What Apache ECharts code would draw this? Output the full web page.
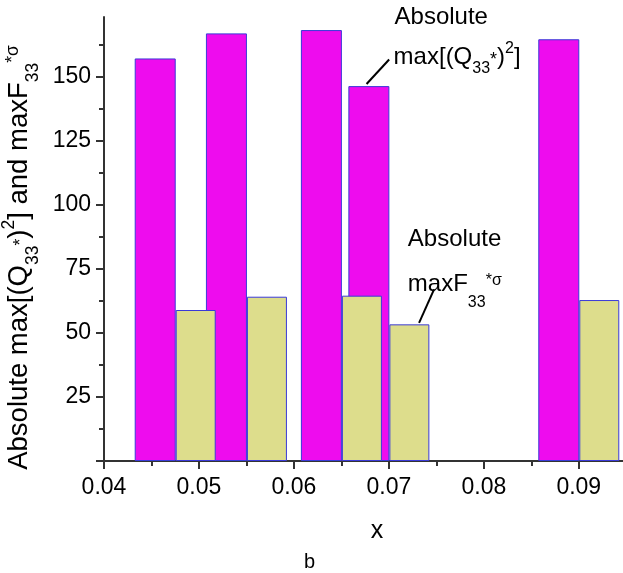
<!DOCTYPE html>
<html>
<head>
<meta charset="utf-8">
<script src="https://cdn.jsdelivr.net/npm/echarts@6/dist/echarts.min.js"></script>
<style>
  html, body { margin: 0; padding: 0; background: #fff; }
  #chart { width: 623px; height: 573px; }
</style>
</head>
<body>
<div id="chart"></div>
<script>
// ---- data ----
const pairX = [0.0475, 0.055, 0.065, 0.07, 0.09];
const qValues = [157.3, 167.1, 168.4, 146.5, 164.8];   // Absolute max[(Q33*)^2]
const fValues = [59.0, 64.2, 64.6, 53.4, 62.9];        // Absolute maxF33*σ
const xTickValues = [0.04, 0.05, 0.06, 0.07, 0.08, 0.09];
const yTickValues = [0, 25, 50, 75, 100, 125, 150];
const yLabelValues = [25, 50, 75, 100, 125, 150];
const leaderQ = [[0.06765, 147.3], [0.07003, 156.9]];
const leaderF = [[0.07318, 54.0], [0.07476, 67.1]];
const annoQWord = [0.0706, 168.7];
const annoQFormula = [0.0705, 157.6];
const annoFWord = [0.0720, 81.9];
const annoFFormula = [0.0720, 69.0];

const FONT = "'Liberation Sans', Arial, sans-serif";
const chart = echarts.init(document.getElementById('chart'), null, { renderer: 'canvas' });

const borderCol = '#3a3ad8';

chart.setOption({
  animation: false,
  backgroundColor: '#ffffff',
  textStyle: { fontFamily: FONT },
  title: {
    text: 'b', left: 304, top: 552, padding: 0,
    textStyle: { fontSize: 20, fontWeight: 'normal', color: '#000', fontFamily: FONT, lineHeight: 20 }
  },
  grid: { left: 104, right: -27, top: 17, bottom: 112, containLabel: false, outerBoundsMode: 'none' },
  xAxis: {
    type: 'value', min: 0.04, max: 0.0975, interval: 0.01,
    name: 'x', nameLocation: 'middle', nameGap: 58,
    nameTextStyle: { fontSize: 25, color: '#000', fontFamily: FONT, lineHeight: 25 },
    axisLine: { show: true, onZero: false, lineStyle: { color: '#333', width: 2 } },
    axisTick: { show: true, inside: false, length: 8, lineStyle: { color: '#333', width: 2 }, customValues: xTickValues },
    minorTick: { show: true, splitNumber: 2, length: 5, lineStyle: { color: '#333', width: 2 } },
    axisLabel: { fontSize: 23, color: '#000', margin: 15, fontFamily: FONT, customValues: xTickValues,
      formatter: v => v.toFixed(2) },
    splitLine: { show: false }, minorSplitLine: { show: false }
  },
  yAxis: {
    type: 'value', min: 0, max: 173.5, interval: 25,
    name: 'Absolute max[(Q{sb|33}{ast|*}){sp|2}] and maxF{sb|33}{sp2|*σ}',
    nameLocation: 'middle', nameGap: 51,
    nameTextStyle: {
      fontSize: 27.5, color: '#000', fontFamily: FONT, lineHeight: 30, padding: [0, 37, 0, 0],
      rich: {
        sb: { fontSize: 17.5, lineHeight: 18, padding: [26, 0, 0, 0], verticalAlign: 'middle', fontFamily: FONT, color: '#000' },
        ast: { fontSize: 17.5, lineHeight: 18, padding: [3, 0, 0, 0], verticalAlign: 'middle', fontFamily: FONT, color: '#000' },
        sp: { fontSize: 17.5, lineHeight: 18, padding: [0, 0, 22, 0], verticalAlign: 'middle', fontFamily: FONT, color: '#000' },
        sp2: { fontSize: 17.5, lineHeight: 18, padding: [0, 0, 13, 0], verticalAlign: 'middle', fontFamily: FONT, color: '#000' }
      }
    },
    axisLine: { show: true, onZero: false, lineStyle: { color: '#333', width: 2 } },
    axisTick: { show: true, inside: false, length: 8, lineStyle: { color: '#333', width: 2 }, customValues: yTickValues },
    minorTick: { show: true, splitNumber: 2, length: 5, lineStyle: { color: '#333', width: 2 } },
    axisLabel: { fontSize: 23, color: '#000', margin: 13, fontFamily: FONT, customValues: yLabelValues },
    splitLine: { show: false }, minorSplitLine: { show: false }
  },
  series: [
    {
      type: 'bar', name: 'maxQ',
      data: pairX.map((x, i) => [x, qValues[i]]),
      barWidth: 41, barGap: '0%',
      itemStyle: { color: '#EE0CEE', borderColor: borderCol, borderWidth: 1 },
      emphasis: { disabled: true }
    },
    {
      type: 'bar', name: 'maxF',
      data: pairX.map((x, i) => [x, fValues[i]]),
      barWidth: 40, barGap: '0%',
      itemStyle: { color: '#DDDD8C', borderColor: borderCol, borderWidth: 1 },
      emphasis: { disabled: true }
    },
    {
      type: 'line', name: 'annotations', data: [], silent: true,
      markLine: {
        silent: true, animation: false,
        symbol: ['none', 'none'],
        lineStyle: { color: '#000', width: 2, type: 'solid' },
        label: { show: false },
        emphasis: { disabled: true },
        data: [
          [{ coord: leaderQ[0] }, { coord: leaderQ[1] }],
          [{ coord: leaderF[0] }, { coord: leaderF[1] }]
        ]
      },
      markPoint: {
        silent: true, animation: false,
        symbol: 'circle', symbolSize: 1,
        itemStyle: { color: 'rgba(0,0,0,0)' },
        label: {
          show: true, position: 'inside', align: 'left', verticalAlign: 'middle',
          color: '#000', fontSize: 24, lineHeight: 24, fontFamily: FONT,
          rich: {
            sb: { fontSize: 16, lineHeight: 16, padding: [21, 0, 0, 0], verticalAlign: 'middle', color: '#000', fontFamily: FONT },
            ast: { fontSize: 18, lineHeight: 18, padding: [4, 0, 0, 0], verticalAlign: 'middle', color: '#000', fontFamily: FONT },
            sp: { fontSize: 16, lineHeight: 16, padding: [0, 0, 18, 0], verticalAlign: 'middle', color: '#000', fontFamily: FONT },
            sb2: { fontSize: 16, lineHeight: 16, padding: [36, 0, 0, 0], verticalAlign: 'middle', color: '#000', fontFamily: FONT },
            sp2: { fontSize: 16, lineHeight: 16, padding: [0, 0, 8, 0], verticalAlign: 'middle', color: '#000', fontFamily: FONT }
          }
        },
        data: [
          { coord: annoQWord, label: { formatter: 'Absolute', verticalAlign: 'bottom' } },
          { coord: annoQFormula, label: { formatter: 'max[(Q{sb|33}{ast|*}){sp|2}]' } },
          { coord: annoFWord, label: { formatter: 'Absolute', verticalAlign: 'bottom' } },
          { coord: annoFFormula, label: { formatter: 'maxF{sb2|33}{sp2|*σ}' } }
        ]
      }
    }
  ]
});
</script>
</body>
</html>
